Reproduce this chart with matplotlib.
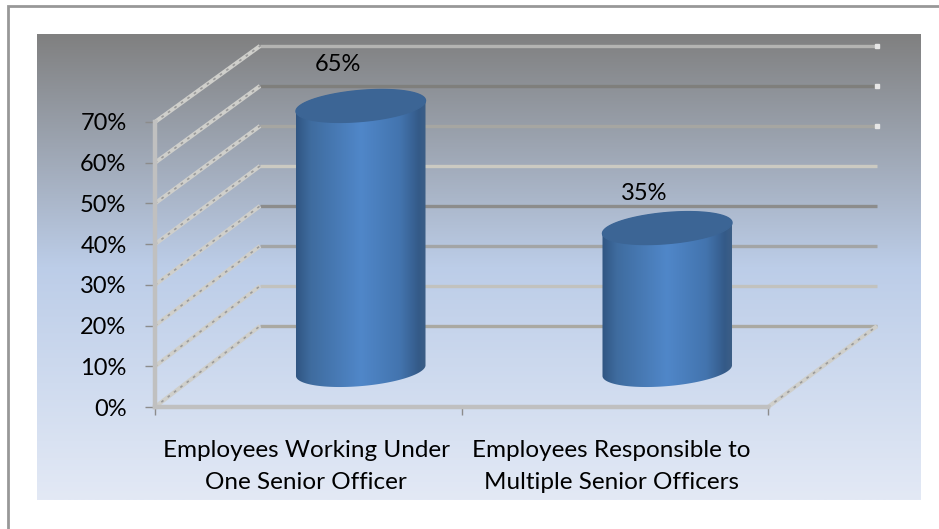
import numpy as np
import matplotlib
matplotlib.use("Agg")
import matplotlib.pyplot as plt
from matplotlib.colors import LinearSegmentedColormap
from matplotlib.patches import Polygon

categories = ["Employees Working Under\nOne Senior Officer",
              "Employees Responsible to\nMultiple Senior Officers"]
shares = [65, 35]
share_labels = ["65%", "35%"]
y_ticks = [0, 10, 20, 30, 40, 50, 60, 70]
y_tick_labels = ["0%", "10%", "20%", "30%", "40%", "50%", "60%", "70%"]
grid_colors = ["#aaa9a2", "#c2c2be", "#a3a5a6", "#8c8c8c", "#cbcac2", "#a6a6a2", "#7f7f7c", "#b4b4b2"]

W, H = 939, 529
plt.rcParams["font.family"] = ["Lato", "DejaVu Sans"]
fig = plt.figure(figsize=(W / 100, H / 100), dpi=100, facecolor="white")


def box(l, t, r, b):
    return [l / W, 1 - b / H, (r - l) / W, (b - t) / H]


# Frame edges and graded panel
bg = fig.add_axes([0, 0, 1, 1], zorder=0)
bg.axis("off")
bg.plot([8, 8, 939], [529, 6, 6], color="#989898", lw=2.0, solid_joinstyle="miter")
panel_cmap = LinearSegmentedColormap.from_list(
    "panel", [(0, "#808080"), (0.5, "#bccde8"), (0.75, "#cfdbef"), (1, "#e3e9f5")])
bg.imshow(np.linspace(0, 1, 256)[:, None], cmap=panel_cmap, aspect="auto",
          extent=(36.5, 920, 500.5, 35), zorder=1)
bg.set_xlim(0, W)
bg.set_ylim(H, 0)

# Chart axes: x in category units, y in percent
L, R, T, B = 155, 768, 122, 407
ax = fig.add_axes(box(L, T, R, B), zorder=1)
ax.patch.set_alpha(0)
ax.set_xlim(0, 2)
ax.set_ylim(0, 70)
px_x = 2 / (R - L)
px_y = 70 / (B - T)

DX, DY = 105 * px_x, 81 * px_y
BACK_SCALE = 280 / 285
BACK_RIGHT = (877 - L) * px_x


def back_y(v):
    return DY + v * BACK_SCALE


def side_stroke(x0, y0, x1, y1):
    # Light diagonal wall stroke with darker flecks along it
    ax.plot([x0, x1], [y0, y1], color="#cfcfcb", lw=3.0, clip_on=False,
            solid_capstyle="butt", zorder=2)
    ax.plot([x0, x1], [y0, y1], color="#9a9a9a", lw=1.2, clip_on=False,
            ls=(0, (1.6, 3.2)), zorder=2.1)


# Wall gridlines and the side-wall strokes
for v, c in zip(y_ticks, grid_colors):
    ax.plot([DX, BACK_RIGHT], [back_y(v)] * 2, color=c, lw=2.4, clip_on=False,
            solid_capstyle="butt", zorder=2)
    side_stroke(0, v, DX, back_y(v))
for v in y_ticks[-3:]:
    ax.plot([BACK_RIGHT], [back_y(v)], "s", color="#e6e6e6", ms=2.8, clip_on=False, zorder=2)
side_stroke(2, 0, BACK_RIGHT, back_y(0))

# Cylinders
body_cmap = LinearSegmentedColormap.from_list(
    "body", [(0, "#2f5480"), (0.12, "#3f6c9f"), (0.5, "#5087c9"), (0.8, "#4374ae"),
             (0.94, "#345a88"), (1, "#3d5f86")])
A, E, TILT = 65, 15.5, np.deg2rad(5)
theta = np.linspace(0, 2 * np.pi, 181)
ex = (A * np.cos(theta) * np.cos(TILT) - E * np.sin(theta) * np.sin(TILT)) * px_x
ey = (A * np.cos(theta) * np.sin(TILT) + E * np.sin(theta) * np.cos(TILT)) * px_y

for i, (val, txt) in enumerate(zip(shares, share_labels)):
    cx = i + 0.5 + DX / 2
    base = DY / 2 - 1
    top = base + val
    upper = theta <= np.pi
    lower = theta >= np.pi
    verts = np.r_[np.c_[cx + ex[upper], top + ey[upper]],
                  np.c_[cx + ex[lower], base + ey[lower]]]
    outline = Polygon(verts, closed=True, transform=ax.transData, fc="none", ec="none")
    ax.add_patch(outline)
    im = ax.imshow(np.linspace(0, 1, 256)[None, :], cmap=body_cmap, aspect="auto",
                   extent=(cx - (A + 1) * px_x, cx + (A + 1) * px_x, base - 25, top + 25), zorder=3)
    im.set_clip_path(outline)
    im.set_clip_box(fig.bbox)
    ax.set_xlim(0, 2)
    ax.set_ylim(0, 70)
    ax.fill(cx + ex, top + ey, color="#3c6595", zorder=4, clip_on=False)
    ax.text(cx - 23 * px_x, top + (41 if i == 0 else 35) * px_y, txt, fontsize=17,
            ha="center", va="center", color="black", zorder=5)

# Axis lines, ticks and labels
for side in ("top", "right"):
    ax.spines[side].set_visible(False)
for side in ("left", "bottom"):
    ax.spines[side].set_color("#c0c0c0")
    ax.spines[side].set_linewidth(3.2)
    ax.spines[side].set_zorder(2.5)
ax.set_yticks(y_ticks, y_tick_labels)
ax.set_xticks([0, 1, 2], ["", "", ""])
ax.set_xticks([0.493, 1.49], categories, minor=True)
ax.tick_params(axis="y", length=7.5, width=1, color="#8c8c8c", labelsize=17, pad=13, labelcolor="black")
ax.tick_params(axis="x", which="major", length=6, width=1, color="#8c8c8c")
ax.tick_params(axis="x", which="minor", length=0, labelsize=17.5, pad=24, labelcolor="black")
for lab in ax.get_xticklabels(minor=True):
    lab.set_linespacing(1.65)

fig.savefig("out.png", dpi=100)
